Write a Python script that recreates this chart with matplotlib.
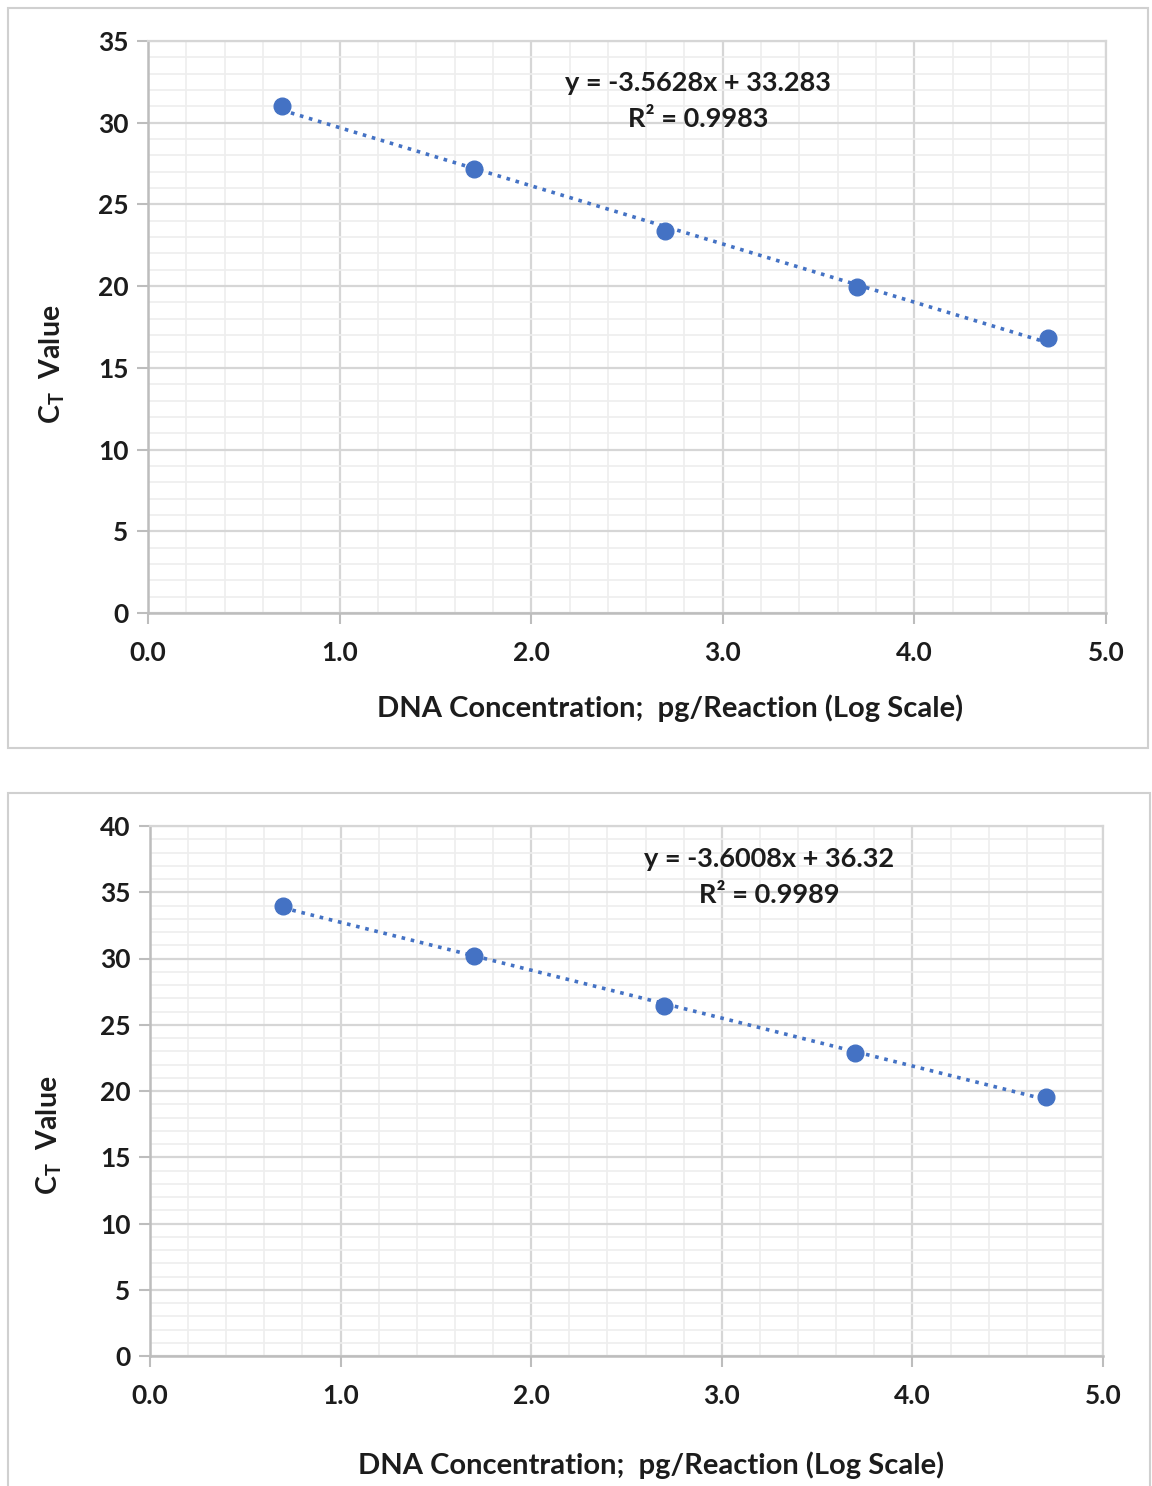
import numpy as np
import matplotlib
matplotlib.use('Agg')
import matplotlib.pyplot as plt
from matplotlib.patches import Rectangle
from matplotlib.ticker import MultipleLocator, FormatStrFormatter

plt.rcParams['font.family'] = ['Lato', 'DejaVu Sans']
plt.rcParams['font.weight'] = 'bold'
plt.rcParams['axes.labelweight'] = 'bold'
plt.rcParams['mathtext.fontset'] = 'custom'
plt.rcParams['mathtext.rm'] = 'Lato:bold'
plt.rcParams['mathtext.it'] = 'Lato:bold'
plt.rcParams['mathtext.default'] = 'rm'

# data: log10 of DNA amount vs Ct
log_conc = [0.699, 1.699, 2.699, 3.699, 4.699]
ct_top = [31.0, 27.15, 23.35, 19.95, 16.8]
ct_bottom = [33.95, 30.2, 26.4, 22.85, 19.55]
eq_top = ['y = -3.5628x + 33.283', 'R² = 0.9983']
eq_bottom = ['y = -3.6008x + 36.32', 'R² = 0.9989']

blue = '#4472C4'
txt = '#1c1c1c'

fig = plt.figure(figsize=(11.52, 14.86), dpi=100)

# chart borders
fig.patches.append(Rectangle((8/1152, 1-748/1486), 1140/1152, 740/1486,
                             transform=fig.transFigure, fill=False,
                             edgecolor='#d0d0d0', lw=1.5))
fig.patches.append(Rectangle((8/1152, -0.01), 1142/1152, 0.01+(1486-793)/1486,
                             transform=fig.transFigure, fill=False,
                             edgecolor='#d0d0d0', lw=1.5))

ax1 = fig.add_axes([148/1152, 1-613/1486, 958/1152, 572/1486])
ax2 = fig.add_axes([150/1152, 1-1356/1486, 953/1152, 530/1486])


def draw(ax, x, y, ymax, eq, eqx, eqy, xlab_pos, ylab_pos):
    ax.set_xlim(0, 5)
    ax.set_ylim(0, ymax)
    ax.xaxis.set_major_locator(MultipleLocator(1))
    ax.xaxis.set_minor_locator(MultipleLocator(0.2))
    ax.yaxis.set_major_locator(MultipleLocator(5))
    ax.yaxis.set_minor_locator(MultipleLocator(1))
    ax.xaxis.set_major_formatter(FormatStrFormatter('%.1f'))
    ax.grid(which='major', color='#d6d6d6', lw=1.6)
    ax.grid(which='minor', color='#eeeeee', lw=1.2)
    ax.set_axisbelow(True)
    for s in ['top', 'right']:
        ax.spines[s].set_color('#d6d6d6')
        ax.spines[s].set_linewidth(1.6)
    for s in ['left', 'bottom']:
        ax.spines[s].set_color('#bdbdbd')
        ax.spines[s].set_linewidth(1.8)
    ax.tick_params(which='major', direction='out', length=8, width=1.5,
                   color='#bdbdbd', labelsize=19, labelcolor=txt, pad=6)
    ax.tick_params(axis='x', pad=12)
    ax.tick_params(which='minor', length=0)

    # trend line from a linear fit
    k, b = np.polyfit(x, y, 1)
    xs = np.array([x[0], x[-1]])
    ax.plot(xs, k*xs + b, linestyle=(0, (1, 1.6)), color=blue, lw=2.6, zorder=2)
    ax.plot(x, y, 'o', color=blue, ms=12, zorder=3)

    for line, yy in zip(eq, eqy):
        ax.text(eqx, yy, line, ha='center', va='center', fontsize=19.5,
                fontweight='bold', color=txt)
    ax.set_xlabel('DNA Concentration;  pg/Reaction (Log Scale)', fontsize=21,
                  fontweight='bold', color=txt)
    ax.set_ylabel('C$_\\mathrm{T}$  Value', fontsize=20.5, fontweight='bold',
                  color=txt)
    ax.xaxis.set_label_coords(*xlab_pos)
    ax.yaxis.set_label_coords(*ylab_pos)


draw(ax1, log_conc, ct_top, 35, eq_top, 2.87, [32.45, 30.25],
     (0.545, -0.143), (-0.085, 0.434))
draw(ax2, log_conc, ct_bottom, 40, eq_bottom, 3.25, [37.5, 34.8],
     (0.526, -0.180), (-0.090, 0.417))

fig.savefig('out.png', dpi=100)
